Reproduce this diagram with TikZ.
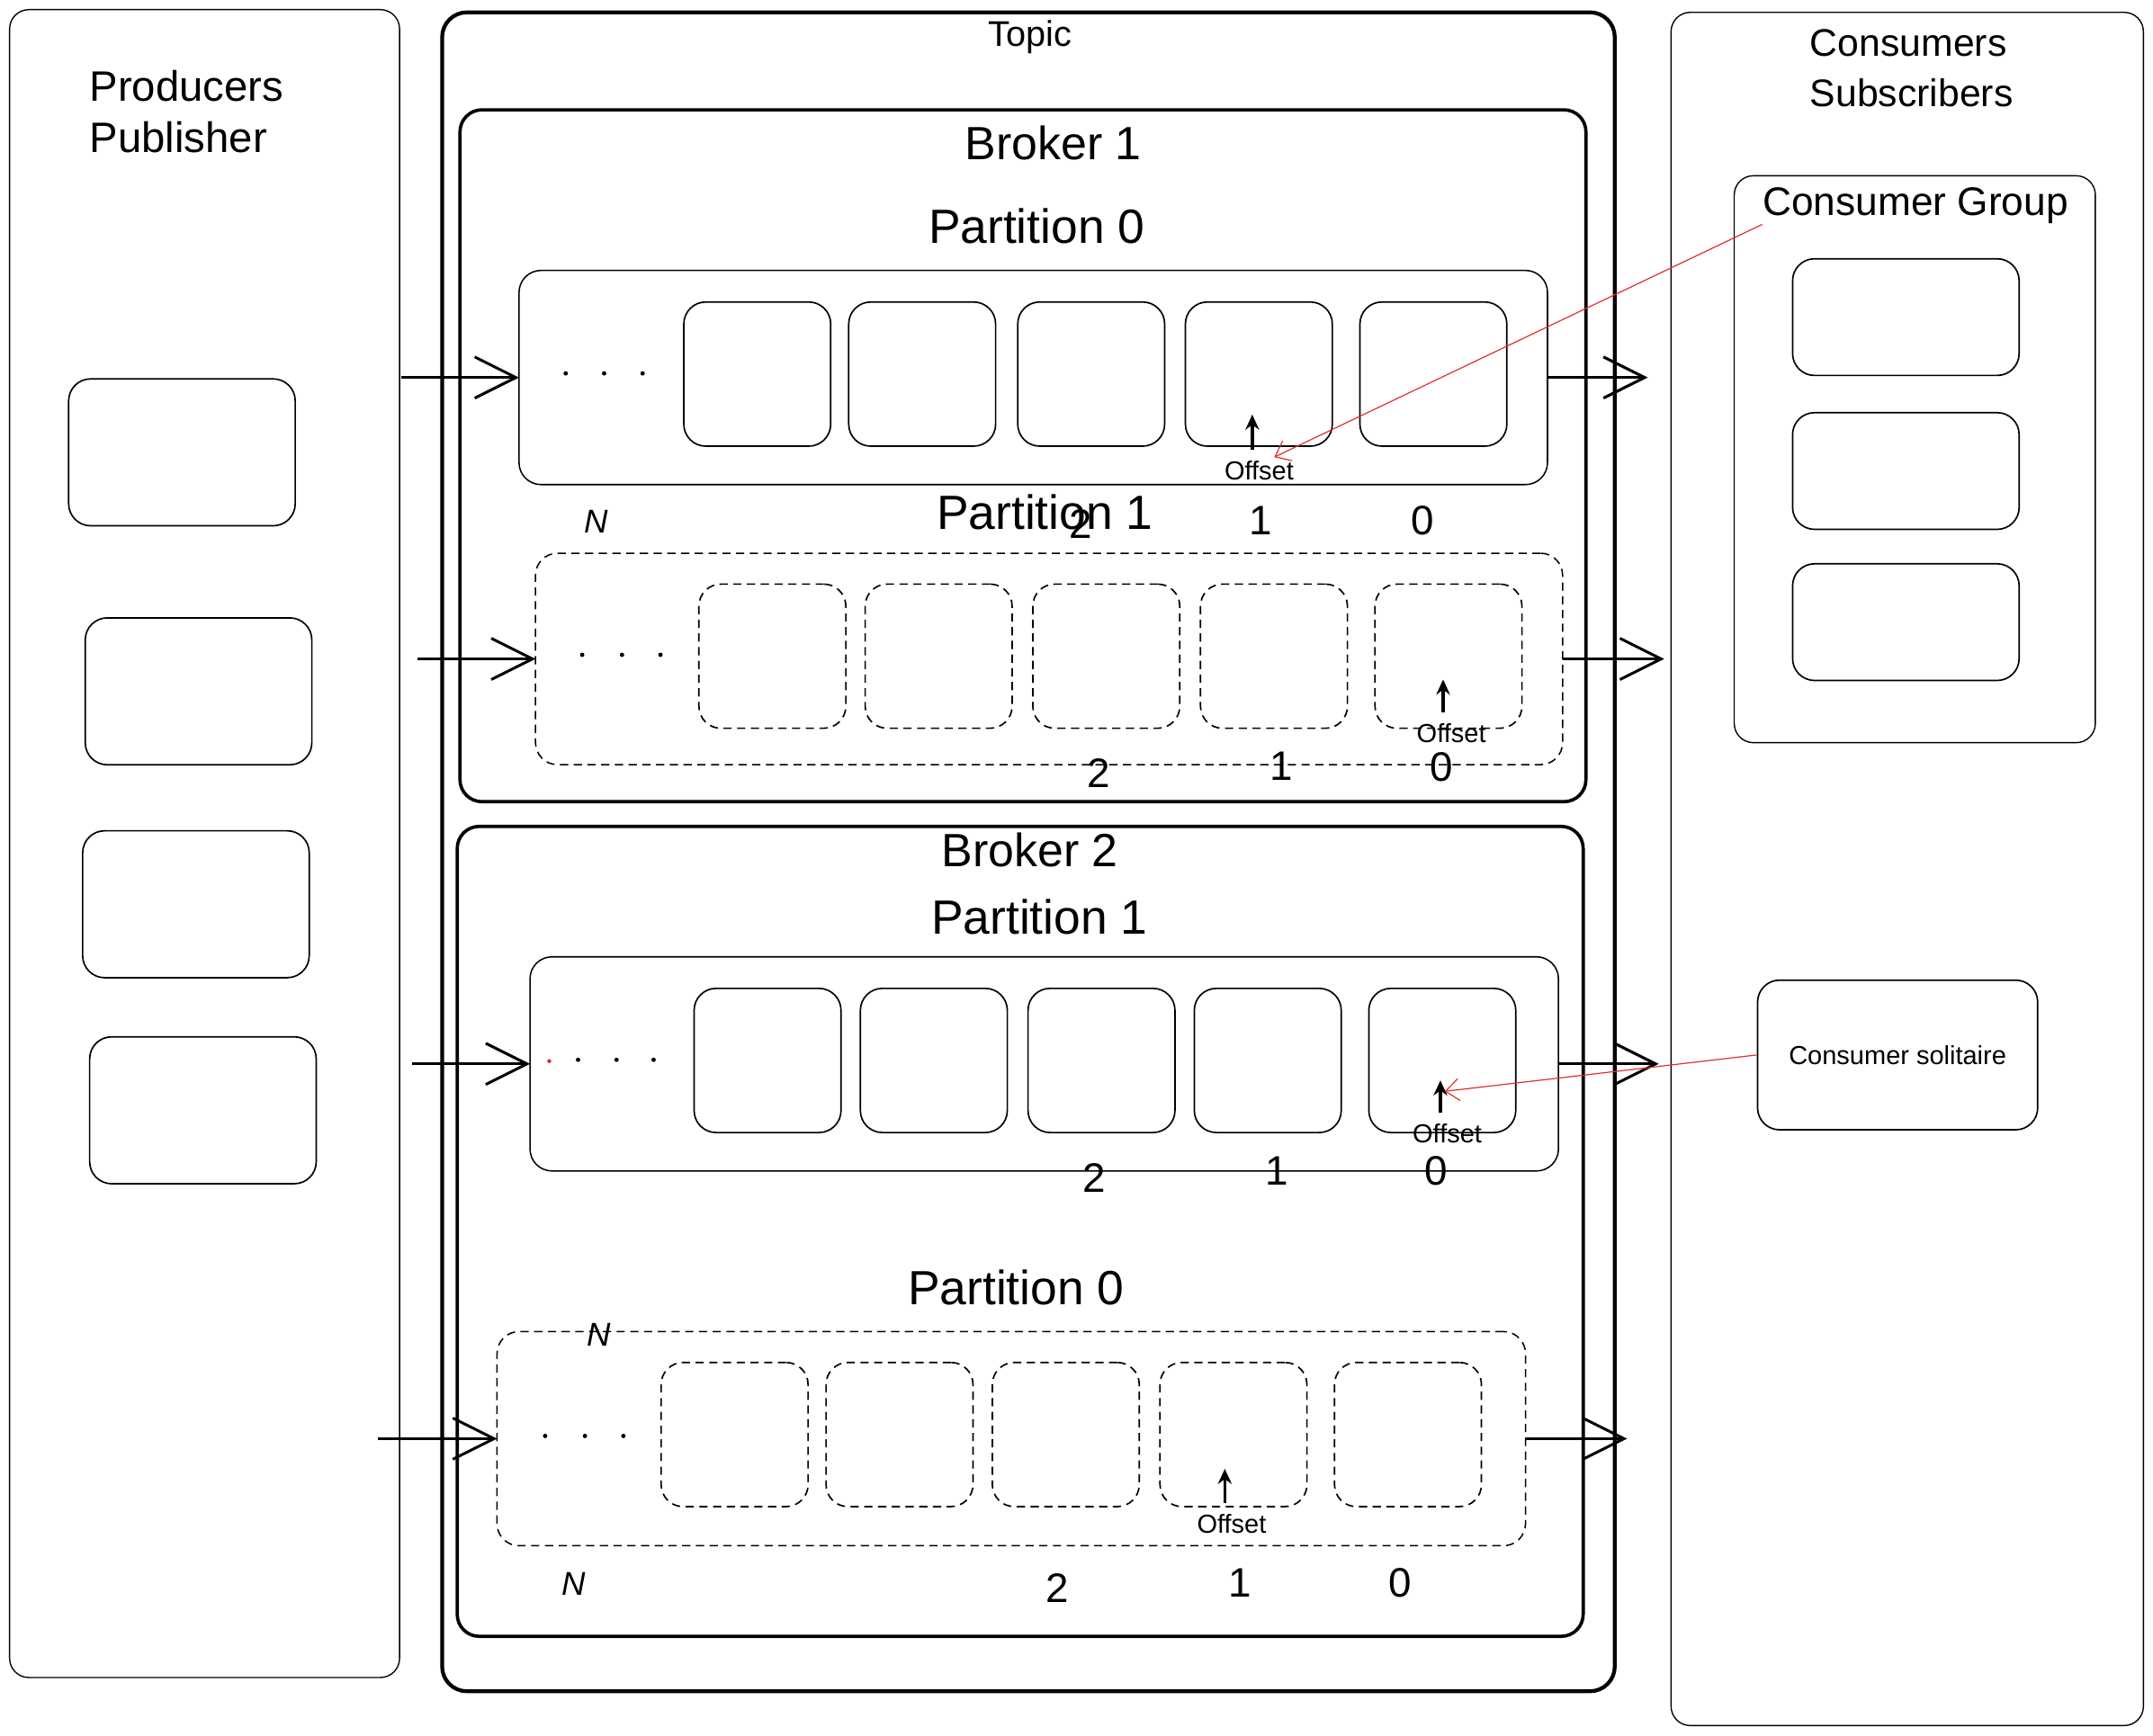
\documentclass[tikz,border=0pt]{standalone}
\usepackage{fontspec}
\setmainfont{Liberation Sans}
\usepackage{tikz}
\usetikzlibrary{arrows.meta,positioning,calc}

\definecolor{sketchRed}{HTML}{E03131}

\begin{document}
\begin{tikzpicture}[x=1pt,y=-1pt,semithick,>={Straight Barb[length=30pt,width=30pt]}]

\tikzset{
	panel/.style={
		draw,
		rounded corners=14pt,
		line width=0.9pt,
		inner sep=0pt,
		outer sep=0pt
	}
}

\tikzset{
	topicBox/.style={
		draw,
		rounded corners=18pt,
		line width=2.8pt,
		inner sep=0pt
	}
}

\tikzset{
	brokerBox/.style={
		draw,
		rounded corners=16pt,
		line width=2.4pt,
		inner sep=0pt
	}
}

\tikzset{
	partitionBox/.style={
		draw,
		rounded corners=16pt,
		line width=1pt,
		minimum width=749pt,
		minimum height=156pt,
		inner sep=0pt,
		outer sep=0pt
	}
}

\tikzset{
	msgCell/.style={
		draw,
		rounded corners=16pt,
		line width=1.1pt,
		minimum width=107pt,
		minimum height=105pt,
		inner sep=0pt
	}
}

\tikzset{
	clientCell/.style={
		draw,
		rounded corners=16pt,
		line width=1.1pt,
		minimum width=165pt,
		inner sep=0pt
	}
}

\tikzset{
	dashLine/.style={dash pattern=on 6pt off 4pt}
}

\tikzset{
	txt/.style={inner sep=0pt},
	topicLabel/.style={txt,font=\fontsize{26}{31}\selectfont},
	headLabel/.style={txt,align=left,font=\fontsize{31}{37}\selectfont},
	brokerLabel/.style={txt,font=\fontsize{34}{40}\selectfont},
	partLabel/.style={txt,font=\fontsize{35}{42}\selectfont},
	groupLabel/.style={txt,font=\fontsize{29}{35}\selectfont},
	indexLabel/.style={txt,font=\fontsize{30}{36}\selectfont},
	nLabel/.style={txt,font=\fontsize{24}{28}\selectfont\itshape},
	offsetLabel/.style={txt,font=\fontsize{19}{22}\selectfont}
}

\tikzset{
	feedArrow/.style={->,line width=2pt},
	offsetArrow/.style={-{Stealth[length=11pt,width=10pt]},line width=2.2pt,shorten <=8pt},
	pickArrow/.style={-{Straight Barb[length=10pt,width=16pt]},draw=sketchRed,line width=0.8pt}
}

\useasboundingbox (0,0) rectangle (1568,1264);

% outer columns
\node[panel, minimum width=284pt, minimum height=1215pt](prod) at (149,614.5) {};
\node[topicBox, minimum width=854pt, minimum height=1223pt](topic) at (749,620.5) {};
\node[panel, minimum width=344pt, minimum height=1248pt](cons) at (1389,633) {};

\node[topicLabel](topicT) at (750,27) {Topic};
\node[headLabel, anchor=north west](prodT) at (65,51) {Producers\\Publisher};
\node[headLabel, anchor=north west, font=\fontsize{28}{37}\selectfont](consT) at (1318,21) {Consumers\\Subscribers};

% producers
\node[clientCell, minimum height=107pt](pc1) at (132.5,329.5) {};
\node[clientCell, minimum height=107pt](pc2) [below right=66pt and -154pt of pc1] {};
\node[clientCell, minimum height=107pt](pc3) [below right=47pt and -168pt of pc2] {};
\node[clientCell, minimum height=107pt](pc4) [below right=42pt and -161pt of pc3] {};

% brokers
\node[brokerBox, minimum width=820pt, minimum height=504pt](b1) at (745,332) {};
\node[brokerBox, minimum width=820pt, minimum height=590pt](b2) at (743,897) {};

\node[brokerLabel](b1T) at (767,104) {Broker 1};
\node[brokerLabel](b2T) at (750,619) {Broker 2};

% broker 1, partition 0
\node[partLabel](p10T) at (755,165) {Partition 0};
\node[partitionBox](p10) at (752.5,275) {};
\node[msgCell](c101) at (551.5,272.5) {};
\node[msgCell](c102) [right=12pt of c101] {};
\node[msgCell](c103) [right=15pt of c102] {};
\node[msgCell](c104) [right=14pt of c103] {};
\node[msgCell](c105) [right=19pt of c104] {};
\fill (412,272) circle (1.6pt) (440,272) circle (1.6pt) (468,272) circle (1.6pt);

\node[offsetLabel](o10) at (917,343) {Offset};
\coordinate (t10) at (912,302);
\draw[offsetArrow] (o10.north -| t10) -- (t10);

\node[nLabel](n10) at (434,380) {N};
\node[partLabel](p11T) at (761,373) {Partition 1};
\node[indexLabel](i102) at (787,382) {2};
\node[indexLabel](i101) at (918,379) {1};
\node[indexLabel](i100) at (1036,379) {0};

% broker 1, partition 1
\node[partitionBox, dashLine, minimum width=748pt, minimum height=154pt](p11) at (764,480) {};
\node[msgCell, dashLine](c111) at (562.5,478) {};
\node[msgCell, dashLine](c112) [right=13pt of c111] {};
\node[msgCell, dashLine](c113) [right=14pt of c112] {};
\node[msgCell, dashLine](c114) [right=14pt of c113] {};
\node[msgCell, dashLine](c115) [right=19pt of c114] {};
\fill (424,477) circle (1.6pt) (453,477) circle (1.6pt) (481,477) circle (1.6pt);

\node[offsetLabel](o11) at (1057,534) {Offset};
\coordinate (t11) at (1051,495);
\draw[offsetArrow] (o11.north -| t11) -- (t11);

\node[indexLabel](i112) at (800,563) {2};
\node[indexLabel](i111) at (933,558) {1};
\node[indexLabel](i110) at (1050,559) {0};

% broker 2, partition 1
\node[partLabel](p21T) at (757,668) {Partition 1};
\node[partitionBox](p21) at (760.5,775) {};
\node[msgCell](c211) at (559,772.5) {};
\node[msgCell](c212) [right=13pt of c211] {};
\node[msgCell](c213) [right=14pt of c212] {};
\node[msgCell](c214) [right=13pt of c213] {};
\node[msgCell](c215) [right=19pt of c214] {};
\fill[sketchRed] (400,773) circle (1.5pt);
\fill (421,772) circle (1.6pt) (449,772) circle (1.6pt) (476,772) circle (1.6pt);

\node[offsetLabel](o21) at (1054,826) {Offset};
\coordinate (t21) at (1049,787);
\draw[offsetArrow] (o21.north -| t21) -- (t21);

\node[indexLabel](i212) at (797,858) {2};
\node[indexLabel](i211) at (930,853) {1};
\node[indexLabel](i210) at (1046,853) {0};

% broker 2, partition 0
\node[partLabel](p20T) at (740,938) {Partition 0};
\node[partitionBox, dashLine](p20) at (736.5,1048) {};
\node[msgCell, dashLine](c201) at (535,1045) {};
\node[msgCell, dashLine](c202) [right=12pt of c201] {};
\node[msgCell, dashLine](c203) [right=13pt of c202] {};
\node[msgCell, dashLine](c204) [right=14pt of c203] {};
\node[msgCell, dashLine](c205) [right=19pt of c204] {};
\fill (397,1046) circle (1.6pt) (426,1046) circle (1.6pt) (454,1046) circle (1.6pt);

\node[offsetLabel](o20) at (897,1110) {Offset};
\coordinate (t20) at (892,1070);
\draw[offsetArrow] (o20.north -| t20) -- (t20);

\node[nLabel](n20top) at (436,972) {N};
\node[nLabel](n20) at (418,1154) {N};
\node[indexLabel](i202) at (770,1157) {2};
\node[indexLabel](i201) at (903,1153) {1};
\node[indexLabel](i200) at (1020,1153) {0};

% consumers
\node[panel, minimum width=263pt, minimum height=413pt](group) at (1394.5,334.5) {};
\node[groupLabel](groupT) at (1395,150) {Consumer Group};
\node[clientCell, minimum height=85pt](cc1) at (1388,231) {};
\node[clientCell, minimum height=85pt](cc2) [below=26pt of cc1] {};
\node[clientCell, minimum height=85pt](cc3) [below=24pt of cc2] {};

\node[clientCell, minimum width=204pt, minimum height=109pt, font=\fontsize{19}{22}\selectfont](sol) at (1382,768.5) {Consumer solitaire};

% producer -> partition
\coordinate (src10) at (292,275);
\coordinate (src11) at (304,480);
\coordinate (src21) at (300,775);
\coordinate (src20) at (275,1048);
\draw[feedArrow] (src10) -- (p10.west);
\draw[feedArrow] (src11) -- (p11.west);
\draw[feedArrow] (src21) -- (p21.west);
\draw[feedArrow] (src20) -- (p20.west);

% partition -> consumers
\coordinate (dst10) at (1200,275);
\coordinate (dst11) at (1212,480);
\coordinate (dst21) at (1208,775);
\coordinate (dst20) at (1185,1048);
\draw[feedArrow] (p10.east) -- (dst10);
\draw[feedArrow] (p11.east) -- (dst11);
\draw[feedArrow] (p21.east) -- (dst21);
\draw[feedArrow] (p20.east) -- (dst20);

% reading positions
\coordinate (r10) at (928,333);
\coordinate (r21) at (1052,795);
\draw[pickArrow] (groupT.south west) -- (r10);
\draw[pickArrow] (sol.west) -- (r21);

\end{tikzpicture}
\end{document}
